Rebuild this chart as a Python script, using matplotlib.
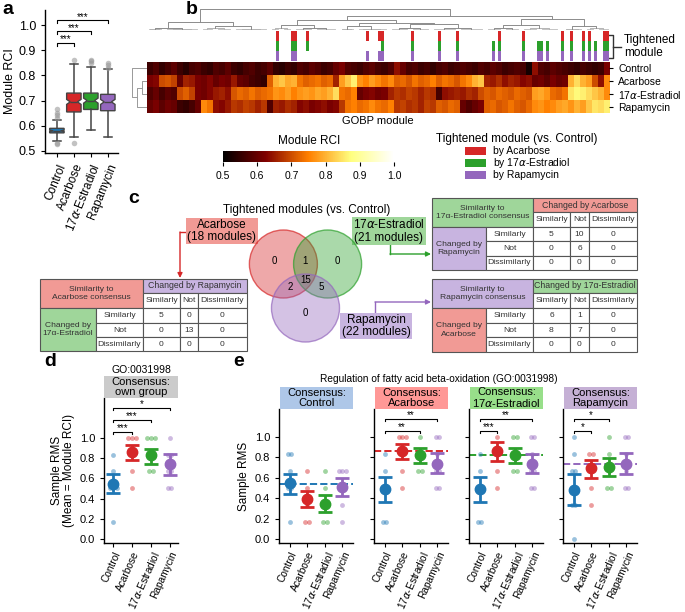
import matplotlib
matplotlib.use('Agg')
import matplotlib.pyplot as plt
import numpy as np
from matplotlib.patches import Rectangle, Circle

plt.rcParams['font.family'] = ['Liberation Sans', 'DejaVu Sans']
plt.rcParams['font.size'] = 8
plt.rcParams['axes.linewidth'] = 1.0
plt.rcParams['xtick.labelsize'] = 8
plt.rcParams['ytick.labelsize'] = 8
plt.rcParams['xtick.major.size'] = 3
plt.rcParams['ytick.major.size'] = 3

W, H = 685, 612

# ---------------------------------------------------------------- data
groups = ['Control', 'Acarbose', r'17$\alpha$-Estradiol', 'Rapamycin']
group_colors = ['#1f77b4', '#d62728', '#2ca02c', '#9467bd']
light_colors = ['#aec7e8', '#ff9896', '#98df8a', '#c5b0d5']

# a: module RCI distributions (box stats)
box_med = [0.580, 0.695, 0.700, 0.695]
box_q1 = [0.572, 0.655, 0.665, 0.660]
box_q3 = [0.590, 0.730, 0.730, 0.725]
box_lo = [0.540, 0.555, 0.585, 0.555]
box_hi = [0.625, 0.845, 0.835, 0.825]
box_ci_lo = [0.577, 0.685, 0.690, 0.685]
box_ci_hi = [0.583, 0.705, 0.710, 0.705]
box_fliers = [[0.528, 0.533, 0.632, 0.642, 0.652, 0.665],
              [0.530, 0.860],
              [0.850, 0.856, 0.862],
              [0.830, 0.840, 0.848]]
a_sig = [(1, 0.93, '***'), (2, 0.975, '***'), (3, 1.02, '***')]

# b: module RCI heatmap (2 modules per block, 154 modules)
n_modules = 154
hm_control = [0.56, 0.58, 0.55, 0.57, 0.59, 0.56, 0.54, 0.57, 0.58, 0.56,
              0.55, 0.58, 0.57, 0.59, 0.56, 0.55, 0.57, 0.58, 0.56, 0.57,
              0.59, 0.55, 0.54, 0.56, 0.55, 0.58, 0.57, 0.59, 0.58, 0.56,
              0.57, 0.60, 0.62, 0.58, 0.57, 0.56, 0.58, 0.59, 0.57, 0.56,
              0.58, 0.64, 0.60, 0.57, 0.58, 0.56, 0.57, 0.55, 0.57, 0.58,
              0.56, 0.57, 0.58, 0.57, 0.56, 0.58, 0.57, 0.59, 0.58, 0.56,
              0.57, 0.58, 0.57, 0.52, 0.64, 0.58, 0.57, 0.59, 0.58, 0.57,
              0.56, 0.55, 0.57, 0.56, 0.55, 0.56, 0.62]
hm_acarbose = [0.62, 0.63, 0.70, 0.71, 0.69, 0.60, 0.66, 0.65, 0.62, 0.61,
               0.63, 0.60, 0.62, 0.61, 0.65, 0.60, 0.59, 0.57, 0.56, 0.55,
               0.72, 0.80, 0.82, 0.79, 0.80, 0.74, 0.72, 0.73, 0.74, 0.72,
               0.73, 0.66, 0.78, 0.82, 0.86, 0.77, 0.75, 0.78, 0.76, 0.74,
               0.76, 0.72, 0.73, 0.71, 0.74, 0.72, 0.73, 0.75, 0.72, 0.74,
               0.73, 0.71, 0.74, 0.76, 0.80, 0.82, 0.66, 0.65, 0.67, 0.64,
               0.66, 0.65, 0.63, 0.64, 0.60, 0.61, 0.59, 0.62, 0.60, 0.61,
               0.80, 0.84, 0.80, 0.78, 0.70, 0.64, 0.76]
hm_estradiol = [0.58, 0.60, 0.57, 0.59, 0.58, 0.70, 0.72, 0.69, 0.62, 0.61,
                0.63, 0.65, 0.66, 0.64, 0.71, 0.73, 0.72, 0.74, 0.72, 0.73,
                0.74, 0.77, 0.76, 0.78, 0.75, 0.77, 0.78, 0.77, 0.79, 0.78,
                0.80, 0.84, 0.74, 0.73, 0.75, 0.60, 0.62, 0.63, 0.61, 0.62,
                0.66, 0.68, 0.67, 0.69, 0.68, 0.66, 0.68, 0.67, 0.57, 0.64,
                0.65, 0.66, 0.65, 0.67, 0.66, 0.70, 0.72, 0.71, 0.73, 0.72,
                0.71, 0.73, 0.72, 0.71, 0.78, 0.79, 0.77, 0.73, 0.72, 0.74,
                0.85, 0.87, 0.86, 0.84, 0.82, 0.80, 0.76]
hm_rapamycin = [0.60, 0.62, 0.59, 0.61, 0.60, 0.56, 0.55, 0.57, 0.60, 0.76,
                0.74, 0.64, 0.63, 0.65, 0.68, 0.67, 0.69, 0.68, 0.66, 0.68,
                0.58, 0.66, 0.65, 0.67, 0.66, 0.63, 0.64, 0.62, 0.63, 0.64,
                0.62, 0.63, 0.68, 0.74, 0.75, 0.73, 0.74, 0.76, 0.74, 0.73,
                0.75, 0.68, 0.69, 0.67, 0.68, 0.66, 0.69, 0.68, 0.72, 0.71,
                0.73, 0.72, 0.60, 0.58, 0.60, 0.62, 0.72, 0.73, 0.71, 0.72,
                0.74, 0.72, 0.71, 0.73, 0.76, 0.77, 0.75, 0.76, 0.78, 0.79,
                0.77, 0.80, 0.78, 0.82, 0.85, 0.84, 0.86]

# tightened modules (module index) per treatment
tight_acarbose = [43, 48, 49, 53, 73, 77, 78, 88, 97, 103, 117, 125, 138,
                  141, 145, 147, 152, 153]
tight_estradiol = [43, 48, 49, 53, 78, 88, 97, 103, 115, 117, 125, 130, 131,
                   133, 138, 141, 145, 147, 149, 152, 153]
tight_rapamycin = [43, 48, 49, 73, 77, 78, 88, 97, 103, 115, 117, 125, 130,
                   131, 133, 138, 141, 145, 147, 149, 152, 153]

# column dendrogram: (height, left, right) or leaf span (x0, x1, height)
col_tree = (18,
            (7, (2, (1, (0, 2, 0.5), (3, 5, 0.6)),
                    (1, (6, 11, 0.6), (12, 17, 0.5))),
                (3, (1.5, (18, 22, 0.7), (23, 28, 0.5)),
                    (1, (29, 34, 0.5), (35, 40, 0.6)))),
            (12, (8, (4, (1.5, (41, 44, 0.5), (45, 48, 0.7)),
                         (2, (49, 55, 0.8), (56, 63, 0.6))),
                     (6, (3, (1, (64, 66, 0.4), (67, 69, 0.5)),
                             (1, (70, 74, 0.5), (75, 80, 0.6))),
                         (5, (2, (81, 87, 0.7), (88, 94, 0.8)),
                             (2, (95, 103, 0.9), (104, 112, 0.6))))),
                 (9, (4, (2, (113, 118, 0.6), (119, 124, 0.8)),
                         (1.5, (125, 130, 0.5), (131, 137, 0.7))),
                     (3, (1, (138, 141, 0.4), (142, 145, 0.5)),
                         (1.5, (146, 149, 0.5), (150, 154, 0.6))))))

# c: consistency tables
tab_col_labels = ['Similarly', 'Not', 'Dissimilarly']
tab_acarbose = [[5, 0, 0], [0, 13, 0], [0, 0, 0]]
tab_estradiol = [[5, 10, 0], [0, 6, 0], [0, 0, 0]]
tab_rapamycin = [[6, 1, 0], [8, 7, 0], [0, 0, 0]]

# d: own-group consensus
d_mean = [0.54, 0.86, 0.83, 0.74]
d_lo = [0.46, 0.78, 0.745, 0.636]
d_hi = [0.64, 0.93, 0.89, 0.84]
d_points = [[0.83, 0.67, 0.5, 0.5, 0.5, 0.17],
            [1.0, 1.0, 1.0, 0.83, 0.67, 0.5],
            [1.0, 1.0, 1.0, 0.83, 0.67, 0.67],
            [1.0, 0.83, 0.83, 0.67, 0.67, 0.5, 0.5]]
d_sig = [(1, 1.06, '***'), (2, 1.18, '***'), (3, 1.30, '*')]

# e: consensus per group
e_titles = ['Consensus:\nControl', 'Consensus:\nAcarbose',
            'Consensus:\n' + r'17$\alpha$-Estradiol', 'Consensus:\nRapamycin']
e_mean = [[0.548, 0.39, 0.344, 0.51],
          [0.49, 0.86, 0.826, 0.738],
          [0.49, 0.86, 0.826, 0.738],
          [0.48, 0.695, 0.71, 0.74]]
e_lo = [[0.44, 0.31, 0.266, 0.42],
        [0.36, 0.78, 0.745, 0.646],
        [0.36, 0.76, 0.745, 0.65],
        [0.33, 0.60, 0.62, 0.64]]
e_hi = [[0.64, 0.47, 0.43, 0.60],
        [0.61, 0.93, 0.89, 0.84],
        [0.61, 0.95, 0.89, 0.83],
        [0.64, 0.77, 0.79, 0.84]]
e_ref = [0.54, 0.86, 0.82, 0.74]
e_points = [
    [[0.83, 0.83, 0.67, 0.5, 0.5, 0.17], [0.67, 0.5, 0.33, 0.17, 0.17],
     [0.67, 0.5, 0.33, 0.33, 0.17, 0.17], [0.67, 0.67, 0.67, 0.5, 0.33, 0.17]],
    [[0.83, 0.67, 0.5, 0.17, 0.17], [1.0, 1.0, 1.0, 0.83, 0.67, 0.5],
     [1.0, 0.83, 0.83, 0.67, 0.67], [1.0, 1.0, 0.83, 0.67, 0.67, 0.5, 0.5]],
    [[0.83, 0.67, 0.5, 0.5, 0.17, 0.17], [1.0, 0.83, 0.67, 0.5],
     [1.0, 1.0, 0.83, 0.83, 0.67, 0.67], [1.0, 1.0, 0.83, 0.67, 0.67, 0.5, 0.5]],
    [[1.0, 0.83, 0.67, 0.67, 0.33, 0.33, 0.0], [0.83, 0.83, 0.67, 0.5, 0.33],
     [1.0, 0.83, 0.67, 0.5, 0.5], [1.0, 1.0, 0.83, 0.67, 0.5, 0.5]],
]
e_sig = [[],
         [(2, 1.06, '**'), (3, 1.18, '**')],
         [(1, 1.06, '***'), (3, 1.18, '**')],
         [(1, 1.06, '*'), (2, 1.18, '*')]]

# ---------------------------------------------------------------- helpers
fig = plt.figure(figsize=(W / 100, H / 100), dpi=100)


def px_axes(x0, y0, x1, y1, **kw):
    return fig.add_axes([x0 / W, 1 - y1 / H, (x1 - x0) / W, (y1 - y0) / H], **kw)


def ftext(x, y, s, **kw):
    fig.text(x / W, 1 - y / H, s, **kw)


def sig_bracket(ax, x1, x2, y, txt, tick=0.02):
    ax.plot([x1, x1, x2, x2], [y - tick, y, y, y - tick], color='k', lw=0.8,
            clip_on=False)
    ax.text((x1 + x2) / 2, y - tick * 0.6, txt, ha='center', va='bottom',
            fontsize=7)


def spread(vals, step=0.2):
    vals = np.asarray(vals)
    xs = np.zeros(len(vals))
    for u in np.unique(vals):
        idx = np.where(vals == u)[0]
        xs[idx] = (np.arange(len(idx)) - (len(idx) - 1) / 2) * step
    return xs


# full-figure overlay in pixel units (tables, arrows, legend swatches)
ov = fig.add_axes([0, 0, 1, 1])
ov.set_xlim(0, W)
ov.set_ylim(H, 0)
ov.axis('off')

# panel letters
for lab, x, y in [('a', 2, 1), ('b', 186, 1), ('c', 128, 190),
                  ('d', 44, 353), ('e', 233, 353)]:
    ftext(x, y, lab, fontsize=14, fontweight='bold', va='top')

# ---------------------------------------------------------------- a
ax = px_axes(45, 10, 118, 153)
stats = []
for i in range(4):
    stats.append(dict(med=box_med[i], q1=box_q1[i], q3=box_q3[i],
                      whislo=box_lo[i], whishi=box_hi[i],
                      fliers=box_fliers[i], cilo=box_ci_lo[i],
                      cihi=box_ci_hi[i], label=groups[i]))
line = dict(color='#444444', lw=1.1)
bp = ax.bxp(stats, positions=range(4), widths=0.85, shownotches=True,
            patch_artist=True, capwidths=0.45,
            boxprops=dict(edgecolor='#444444', lw=1.0),
            medianprops=dict(color='#444444', lw=1.0),
            whiskerprops=line, capprops=line,
            flierprops=dict(marker='o', mfc='#9a9a9a', mec='none', ms=4,
                            alpha=0.6))
for patch, c in zip(bp['boxes'], group_colors):
    patch.set_facecolor(c)
for g, y, t in a_sig:
    sig_bracket(ax, 0, g, y, t, tick=0.012)
ax.set_xlim(-0.7, 3.6)
ax.set_ylim(0.492, 1.06)
ax.set_yticks([0.5, 0.6, 0.7, 0.8, 0.9, 1.0])
ax.tick_params(labelsize=9)
ax.set_ylabel('Module RCI', fontsize=9, labelpad=2)
ax.set_xticks(range(4))
ax.set_xticklabels(groups, rotation=68, ha='right', rotation_mode='anchor',
                   fontsize=8.5)
ax.spines['top'].set_visible(False)
ax.spines['right'].set_visible(False)

# ---------------------------------------------------------------- b
hm = np.array([hm_control, hm_acarbose, hm_estradiol, hm_rapamycin])
axh = px_axes(147, 62, 609, 113)
im = axh.imshow(hm, cmap='afmhot', vmin=0.5, vmax=1.0, aspect='auto',
                extent=(0, n_modules, 4, 0), interpolation='nearest')
axh.set_xticks([])
axh.yaxis.tick_right()
axh.set_yticks([0.5, 1.5, 2.5, 3.5])
axh.set_yticklabels(groups, fontsize=7.5)
axh.set_xlabel('GOBP module', fontsize=8, labelpad=2)
for s in axh.spines.values():
    s.set_visible(False)

# tightened module bars
axb = px_axes(147, 31, 609, 61)
for j, mods in enumerate([tight_acarbose, tight_estradiol, tight_rapamycin]):
    axb.bar(np.array(mods) + 0.5, 1, width=1, bottom=2 - j,
            color=group_colors[j + 1], lw=0)
axb.set_xlim(0, n_modules)
axb.set_ylim(0, 3)
axb.axis('off')

# column dendrogram
axd = px_axes(147, 8, 609, 30)


def draw_tree(a, node):
    if isinstance(node[1], tuple):
        h, left, right = node
        xl, hl = draw_tree(a, left)
        xr, hr = draw_tree(a, right)
        col = '#8c8c8c' if h >= 2 else '#b4b4b4'
        a.plot([xl, xl, xr, xr], [hl, h, h, hr], color=col, lw=0.7)
        return (xl + xr) / 2, h
    x0, x1, h = node
    a.plot([x0 + 0.5, x0 + 0.5, x1 - 0.5, x1 - 0.5], [0, h, h, 0],
           color='#bcbcbc', lw=0.6)
    return (x0 + x1) / 2, h


draw_tree(axd, col_tree)
axd.set_xlim(0, n_modules)
axd.set_ylim(0, 18.5)
axd.axis('off')

# row dendrogram (Acarbose+Estradiol, then Rapamycin, then Control)
axr = px_axes(132, 62, 147, 113)
axr.plot([0, 1, 1, 0], [1.5, 1.5, 2.5, 2.5], color='#999999', lw=0.7)
axr.plot([1, 2, 2, 0], [2.0, 2.0, 3.5, 3.5], color='#999999', lw=0.7)
axr.plot([0, 3, 3, 2], [0.5, 0.5, 2.75, 2.75], color='#999999', lw=0.7)
axr.set_xlim(3.1, 0)
axr.set_ylim(4, 0)
axr.axis('off')

# tightened-module bracket
ov.plot([609, 613, 613, 609], [35, 35, 58, 58], color='#333333', lw=1)
ov.plot([613, 621], [46.5, 46.5], color='#333333', lw=1)
ov.text(624, 46.5, 'Tightened\nmodule', fontsize=8.5, va='center', ha='left',
        linespacing=1.1)

# colorbar
cax = px_axes(223, 151, 394, 162)
cb = fig.colorbar(im, cax=cax, orientation='horizontal')
cb.set_ticks([0.5, 0.6, 0.7, 0.8, 0.9, 1.0])
cb.outline.set_visible(False)
cax.tick_params(labelsize=7.5, length=3)
ftext(309, 141, 'Module RCI', fontsize=8.5, ha='center', va='center')

# tightened legend
ftext(517, 139, 'Tightened module (vs. Control)', fontsize=8.5, ha='center',
      va='center')
leg_labels = ['by Acarbose', r'by 17$\alpha$-Estradiol', 'by Rapamycin']
for j, lab in enumerate(leg_labels):
    yc = 151 + 12 * j
    ov.add_patch(Rectangle((465, yc - 4), 21, 8, fc=group_colors[j + 1],
                           ec='none'))
    ov.text(493, yc, lab, fontsize=7.5, va='center', ha='left')

# ---------------------------------------------------------------- c
ftext(307, 210, 'Tightened modules (vs. Control)', fontsize=8.5,
      ha='center', va='center')
sA, sE, sR = set(tight_acarbose), set(tight_estradiol), set(tight_rapamycin)
venn_counts = {
    'A': len(sA - sE - sR), 'E': len(sE - sA - sR), 'R': len(sR - sA - sE),
    'AE': len((sA & sE) - sR), 'AR': len((sA & sR) - sE),
    'ER': len((sE & sR) - sA), 'AER': len(sA & sE & sR)}
axv = px_axes(240, 225, 372, 348)
axv.set_xlim(-1.926, 1.956)
axv.set_ylim(-2.47, 1.147)
axv.axis('off')
for (cx, cy), c in zip([(-0.65, 0), (0.65, 0), (0, -1.294)],
                       group_colors[1:]):
    axv.add_patch(Circle((cx, cy), 1.0, fc=c, alpha=0.4, ec='none'))
    axv.add_patch(Circle((cx, cy), 1.0, fc='none', ec=c, alpha=0.7, lw=1))
for key, (tx, ty) in {'A': (-0.93, 0.09), 'AE': (0, 0.09), 'E': (0.93, 0.09),
                      'AER': (0, -0.47), 'AR': (-0.46, -0.68),
                      'ER': (0.46, -0.68), 'R': (0, -1.44)}.items():
    axv.text(tx, ty, str(venn_counts[key]), ha='center', va='center',
             fontsize=7)

box_fc = ['#f19a95', '#9fd69a', '#c8b4e0']
venn_labels = [('Acarbose', len(sA), 222, 231),
               (r'17$\alpha$-Estradiol', len(sE), 389, 231),
               ('Rapamycin', len(sR), 376, 326)]
for (name, n, x, y), fc in zip(venn_labels, box_fc):
    ov.text(x, y, f'{name}\n({n} modules)', ha='center', va='center',
            fontsize=8.5, linespacing=1.0,
            bbox=dict(boxstyle='square,pad=0.12', fc=fc, ec='none'))

arrow_paths = [[(192, 232), (180, 232), (180, 278)],
               [(390, 243), (390, 254), (431, 254)],
               [(375, 314), (375, 302), (431, 302)]]
for path, c in zip(arrow_paths, group_colors[1:]):
    xs, ys = zip(*path)
    ov.plot(xs[:-1], ys[:-1], color=c, lw=1)
    ov.annotate('', xy=path[-1], xytext=path[-2],
                arrowprops=dict(arrowstyle='-|>', color=c, lw=1,
                                mutation_scale=7, shrinkA=0, shrinkB=0))


def draw_table(xe, ye, title, col_head, row_head, colors, values):
    ec = '#555555'
    tc = '#333333'

    def cell(x0, x1, y0, y1, fc, txt, fs=6.1):
        ov.add_patch(Rectangle((x0, y0), x1 - x0, y1 - y0, fc=fc, ec=ec,
                               lw=0.8))
        ov.text((x0 + x1) / 2, (y0 + y1) / 2, txt, ha='center', va='center',
                fontsize=fs, color=tc, linespacing=1.3)

    cell(xe[0], xe[2], ye[0], ye[2], colors[0], title)
    cell(xe[2], xe[5], ye[0], ye[1], colors[1], col_head, fs=6.3)
    for k in range(3):
        cell(xe[2 + k], xe[3 + k], ye[1], ye[2], 'white', tab_col_labels[k])
    cell(xe[0], xe[1], ye[2], ye[5], colors[2], row_head)
    for r in range(3):
        cell(xe[1], xe[2], ye[2 + r], ye[3 + r], 'white', tab_col_labels[r])
        for k in range(3):
            cell(xe[2 + k], xe[3 + k], ye[2 + r], ye[3 + r], 'white',
                 str(values[r][k]))


draw_table([40, 96, 143, 180, 198, 247], [279, 293, 308, 323, 337, 351],
           'Similarity to\nAcarbose consensus', 'Changed by Rapamycin',
           'Changed by\n17\u03b1-Estradiol',
           [box_fc[0], box_fc[2], box_fc[1]], tab_acarbose)
draw_table([432, 486, 533, 570, 589, 637], [198, 212, 227, 241, 256, 270],
           'Similarity to\n17\u03b1-Estradiol consensus', 'Changed by Acarbose',
           'Changed by\nRapamycin',
           [box_fc[1], box_fc[0], box_fc[2]], tab_estradiol)
draw_table([432, 486, 533, 570, 589, 637], [279, 293, 308, 323, 337, 352],
           'Similarity to\nRapamycin consensus',
           'Changed by 17\u03b1-Estradiol', 'Changed by\nAcarbose',
           [box_fc[2], box_fc[1], box_fc[0]], tab_rapamycin)


# ---------------------------------------------------------------- d / e
def draw_rms(a, means, lo, hi, points, sigs, ref=None, ref_color=None):
    if ref is not None:
        a.axhline(ref, color=ref_color, ls='--', lw=1.4, zorder=1)
    for i in range(4):
        a.errorbar(i, means[i],
                   yerr=[[means[i] - lo[i]], [hi[i] - means[i]]],
                   fmt='o', color=group_colors[i], ms=7.5, lw=2, capsize=5,
                   capthick=2, zorder=3)
        vals = np.array(points[i])
        a.scatter(i + spread(vals), vals, s=12, color=group_colors[i],
                  alpha=0.45, lw=0, zorder=4)
    for g, y, t in sigs:
        sig_bracket(a, 0, g, y, t)
    a.set_xticks(range(4))
    a.set_xticklabels(groups, rotation=66, ha='right', rotation_mode='anchor',
                      fontsize=7.3)
    a.tick_params(axis='x', pad=2)
    a.set_yticks([0, 0.2, 0.4, 0.6, 0.8, 1.0])
    a.spines['top'].set_visible(False)
    a.spines['right'].set_visible(False)


def strip(x0, y0, x1, y1, fc, txt):
    s = px_axes(x0, y0, x1, y1)
    s.set_facecolor(fc)
    s.set_xticks([])
    s.set_yticks([])
    for sp in s.spines.values():
        sp.set_visible(False)
    s.text(0.5, 0.5, txt, ha='center', va='center', fontsize=8,
           transform=s.transAxes, linespacing=1.0)


axd_ = px_axes(104, 398, 178, 543)
draw_rms(axd_, d_mean, d_lo, d_hi, d_points, d_sig)
axd_.set_xlim(-0.5, 3.45)
axd_.set_ylim(-0.04, 1.396)
axd_.set_yticklabels(['0.0', '0.2', '0.4', '0.6', '0.8', '1.0'])
axd_.set_ylabel('Sample RMS\n(Mean = Module RCI)', fontsize=8.5, labelpad=3,
                linespacing=1.1)
strip(104, 376, 178, 398, '#cbcbcb', 'Consensus:\nown group')
ftext(141, 370, 'GO:0031998', fontsize=7.5, ha='center', va='center')

ftext(439, 379, 'Regulation of fatty acid beta-oxidation (GO:0031998)',
      fontsize=7.3, ha='center', va='center')
e_left = [279, 374, 469, 563]
for k in range(4):
    a = px_axes(e_left[k], 409, e_left[k] + 74, 543)
    draw_rms(a, e_mean[k], e_lo[k], e_hi[k], e_points[k], e_sig[k],
             ref=e_ref[k], ref_color=group_colors[k])
    a.set_xlim(-0.6, 3.6)
    a.set_ylim(-0.04, 1.275)
    if k == 0:
        a.set_yticklabels(['0.0', '0.2', '0.4', '0.6', '0.8', '1.0'])
        a.set_ylabel('Sample RMS', fontsize=8.5, labelpad=3)
    else:
        a.set_yticklabels([])
    strip(e_left[k] + 1, 387, e_left[k] + 74, 409, light_colors[k],
          e_titles[k])

fig.savefig('out.png', dpi=100)
